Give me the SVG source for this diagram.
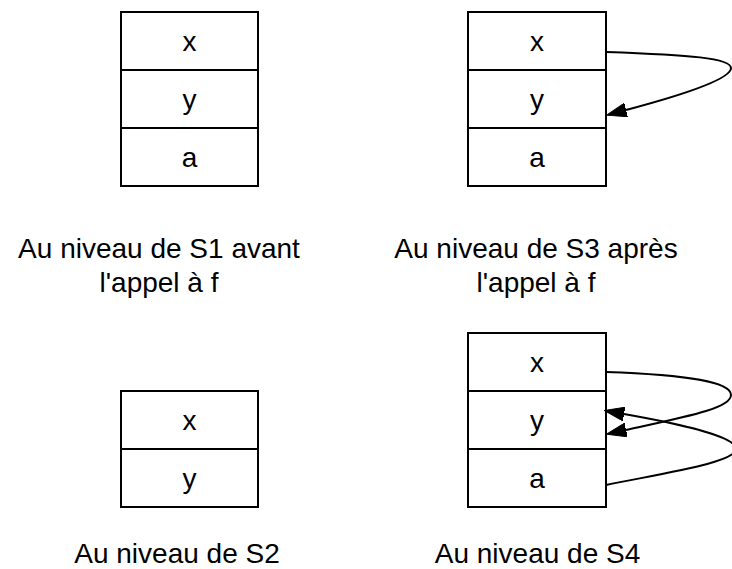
<svg xmlns="http://www.w3.org/2000/svg" width="732" height="569" viewBox="0 0 732 569">
  <style>
    .cell { fill: #ffffff; stroke: #000000; stroke-width: 2; }
    .lbl { font-family: "Liberation Sans", Arial, Helvetica, sans-serif; font-size: 28px; fill: #000000; text-anchor: middle; }
    .edge { fill: none; stroke: #000000; stroke-width: 2; marker-end: url(#arrow); }
  </style>
  <defs>
    <marker id="arrow" viewBox="0 0 20 14" markerWidth="20" markerHeight="14" markerUnits="userSpaceOnUse" refX="0" refY="7" orient="auto">
      <path d="M0,0 L20,7 L0,14 Z" fill="#000000" stroke="#000000" stroke-width="1"/>
    </marker>
  </defs>
  <rect width="732" height="569" fill="#ffffff"/>

  <!-- S1: before the call to f -->
  <g id="s1">
    <rect class="cell" x="121" y="12" width="137" height="58"/>
    <rect class="cell" x="121" y="70" width="137" height="58"/>
    <rect class="cell" x="121" y="128" width="137" height="58"/>
    <text class="lbl" x="189.5" y="51">x</text>
    <text class="lbl" x="189.5" y="109">y</text>
    <text class="lbl" x="189.5" y="167">a</text>
    <text class="lbl" x="159" y="258">Au niveau de S1 avant</text>
    <text class="lbl" x="159" y="292">l'appel à f</text>
  </g>

  <!-- S3: after the call to f -->
  <g id="s3">
    <rect class="cell" x="468" y="12" width="138" height="58"/>
    <rect class="cell" x="468" y="70" width="138" height="58"/>
    <rect class="cell" x="468" y="128" width="138" height="58"/>
    <text class="lbl" x="537" y="51">x</text>
    <text class="lbl" x="537" y="109">y</text>
    <text class="lbl" x="537" y="167">a</text>
    <text class="lbl" x="536" y="258">Au niveau de S3 après</text>
    <text class="lbl" x="536" y="292">l'appel à f</text>
  </g>

  <!-- S2 -->
  <g id="s2">
    <rect class="cell" x="121" y="391" width="137" height="58"/>
    <rect class="cell" x="121" y="449" width="137" height="58"/>
    <text class="lbl" x="189.5" y="430">x</text>
    <text class="lbl" x="189.5" y="488">y</text>
    <text class="lbl" x="177" y="563">Au niveau de S2</text>
  </g>

  <!-- S4 -->
  <g id="s4">
    <rect class="cell" x="468" y="333" width="138" height="58"/>
    <rect class="cell" x="468" y="391" width="138" height="58"/>
    <rect class="cell" x="468" y="449" width="138" height="58"/>
    <text class="lbl" x="537" y="372">x</text>
    <text class="lbl" x="537" y="430">y</text>
    <text class="lbl" x="537" y="488">a</text>
    <text class="lbl" x="537.5" y="563">Au niveau de S4</text>
  </g>

  <!-- pointers between cells -->
  <g id="edges">
    <path class="edge" d="M606,52 C690,55 731,58 731,68 C731,78 690,93 626,110"/>
    <path class="edge" d="M606,372 C690,375 731,382 731,395 C731,408 690,416 626,430"/>
    <path class="edge" d="M606,485 C670,472 736,462 736,449 C736,436 680,424 624,414"/>
  </g>
</svg>
